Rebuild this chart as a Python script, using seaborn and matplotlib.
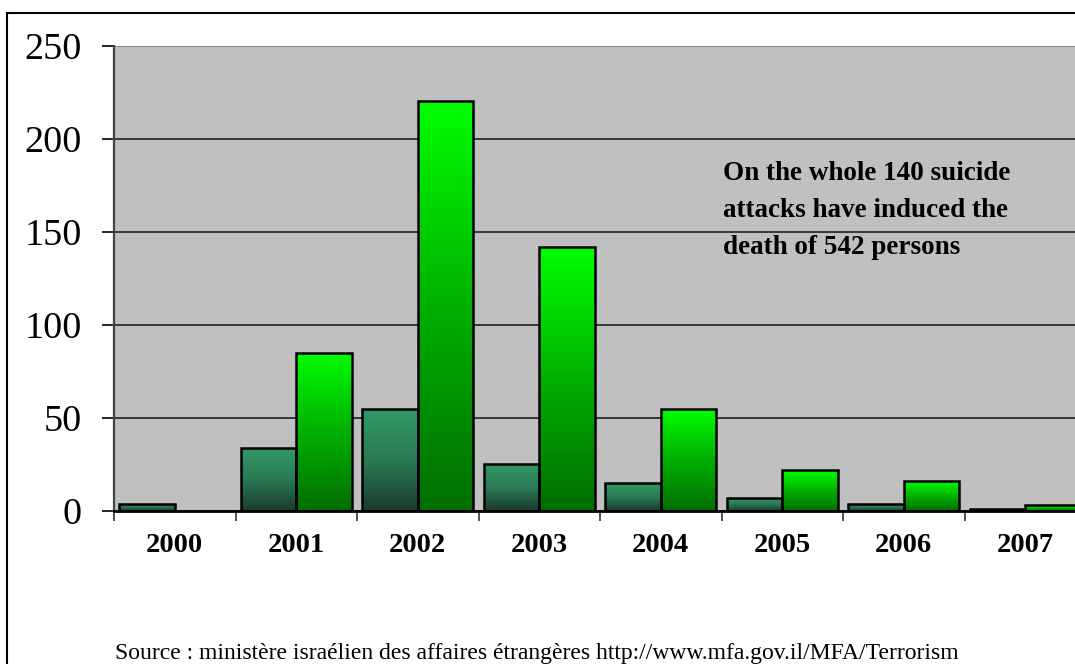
import numpy as np
import pandas as pd
import seaborn as sns
import matplotlib.pyplot as plt
from matplotlib.patches import Rectangle
from matplotlib.colors import LinearSegmentedColormap

# values
years = ["2000", "2001", "2002", "2003", "2004", "2005", "2006", "2007"]
attacks = [4, 34, 55, 25, 15, 7, 4, 1]
deaths = [0, 85, 220, 142, 55, 22, 16, 3]
yticks = [0, 50, 100, 150, 200, 250]
note = "On the whole 140 suicide\nattacks have induced the\ndeath of 542 persons"
source = "Source : ministère israélien des affaires étrangères http://www.mfa.gov.il/MFA/Terrorism"

data = pd.DataFrame({
    "year": years * 2,
    "value": attacks + deaths,
    "series": ["attacks"] * len(years) + ["deaths"] * len(years),
})

sns.set_style("white")
plt.rcParams["font.family"] = ["Liberation Serif", "DejaVu Serif"]
plt.rcParams["text.color"] = "black"
plt.rcParams["xtick.color"] = "black"
plt.rcParams["ytick.color"] = "black"

fig = plt.figure(figsize=(10.75, 6.64), dpi=100)
ax = fig.add_axes([114 / 1075, 153 / 664, 972 / 1075, 465.5 / 664])

sns.barplot(data=data, x="year", y="value", hue="series", width=0.91,
            palette={"attacks": "#2e8b57", "deaths": "#00cc00"},
            edgecolor="black", linewidth=1.8, legend=False, ax=ax, zorder=3)

# vertical gradients inside every bar
grads = {
    "attacks": LinearSegmentedColormap.from_list("a", ["#1b3b2b", "#2a7a55", "#339966"]),
    "deaths": LinearSegmentedColormap.from_list("d", ["#006e00", "#00b000", "#00ff00"]),
}
grad = np.linspace(0, 1, 256).reshape(-1, 1)
n = len(years)
for i, bar in enumerate(ax.patches[:2 * n]):
    x0, y0 = bar.get_x(), bar.get_y()
    w, h = bar.get_width(), bar.get_height()
    if h <= 0:
        bar.set_visible(False)
        continue
    cmap = grads["attacks"] if i < n else grads["deaths"]
    img = ax.imshow(grad, cmap=cmap, origin="lower", aspect="auto",
                    extent=[x0, x0 + w, y0, y0 + h], zorder=3.5)
    img.set_clip_path(bar)
    bar.set_facecolor("none")
    bar.set_zorder(4)

ax.set_xlim(-0.5, 7.5)
ax.set_ylim(0, 250)
ax.set_facecolor("#c0c0c0")
ax.set_yticks(yticks)
ax.yaxis.grid(True, color="#202020", linewidth=1.2, zorder=1)
ax.set_axisbelow(True)
ax.set_xlabel("")
ax.set_ylabel("")

ax.tick_params(axis="y", which="major", direction="out", length=9, width=1.2,
               color="black", pad=14, labelsize=27.5, left=True)
ax.tick_params(axis="x", which="major", length=0, pad=16, labelsize=20.5)
for lab in ax.get_xticklabels():
    lab.set_fontweight("bold")
ax.set_xticks(np.arange(-0.5, 8, 1), minor=True)
ax.tick_params(axis="x", which="minor", direction="out", length=7, width=1.2,
               color="#333333", bottom=True)

for side in ["top", "right"]:
    ax.spines[side].set_visible(False)
ax.spines["left"].set_color("#444444")
ax.spines["left"].set_linewidth(1.6)
ax.spines["bottom"].set_color("black")
ax.spines["bottom"].set_linewidth(2)
ax.spines["bottom"].set_zorder(5)
ax.axhline(250, color="#909090", linewidth=1.5, zorder=2)

ax.text(4.51, 188, note, fontsize=19.5, fontweight="bold", va="top", ha="left",
        linespacing=1.63, zorder=6)

fig.text(537 / 1075, 10 / 664, source, fontsize=17, ha="center", va="center")

# outer frame of the original slide
fig.patches.append(Rectangle((7 / 1075, -0.1), 2, (664 - 12.5) / 664 + 0.1,
                             transform=fig.transFigure, fill=False,
                             edgecolor="black", linewidth=1.5))

fig.savefig("out.png", dpi=100)
